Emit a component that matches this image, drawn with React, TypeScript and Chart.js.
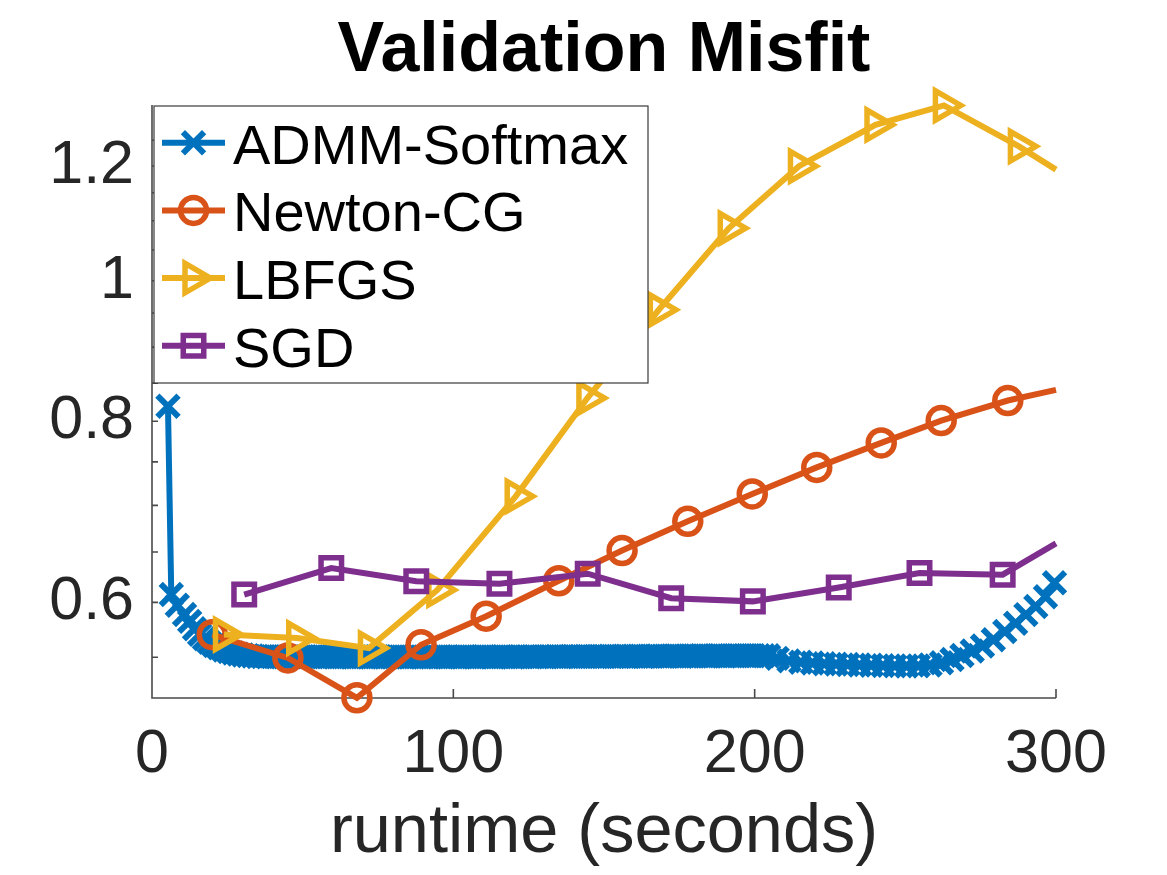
import React, { useEffect, useRef } from 'react';
import { Chart, registerables } from 'chart.js';

Chart.register(...registerables);

const FONT = "'Liberation Sans', Arial, Helvetica, sans-serif";

// ADMM-Softmax: validation misfit per iteration (runtime in seconds)
const admmTime = [
  5.3, 6.4, 8.4, 10.8, 12.5, 14.1, 15.8,
  17.4, 19.0, 20.6, 22.2, 23.8, 25.4, 27.0, 28.6, 30.2, 31.8, 33.4, 35.0,
  36.6, 38.2, 39.8, 41.4, 43.0, 44.6, 46.2, 47.8, 49.4, 51.0,
  52.6, 54.2, 55.8, 57.4, 59.0, 60.6, 62.2, 63.8, 65.4, 67.0,
  68.6, 70.2, 71.8, 73.4, 75.0, 76.6, 78.2, 79.8, 81.4, 83.0,
  84.6, 86.2, 87.8, 89.4, 91.0, 92.6, 94.2, 95.8, 97.4, 99.0,
  100.6, 102.2, 103.8, 105.4, 107.0, 108.6, 110.2, 111.8, 113.4, 115.0,
  116.6, 118.2, 119.8, 121.4, 123.0, 124.6, 126.2, 127.8, 129.4, 131.0,
  132.6, 134.2, 135.8, 137.4, 139.0, 140.6, 142.2, 143.8, 145.4, 147.0,
  148.6, 150.2, 151.8, 153.4, 155.0, 156.6, 158.2, 159.8, 161.4, 163.0,
  164.6, 166.2, 167.8, 169.4, 171.0, 172.6, 174.2, 175.8, 177.4, 179.0,
  180.6, 182.2, 183.8, 185.4, 187.0, 188.6, 190.2, 191.8, 193.4, 195.0,
  196.6, 198.2, 199.8, 201.4, 203.0, 204.6,
  207.5, 211.4, 215.3, 219.2, 223.1, 227.0, 230.9, 234.8, 238.7, 242.6,
  246.5, 250.4, 254.3, 258.2, 262.0, 265.5, 268.8, 272.2, 275.6, 279.2,
  283.0, 286.6, 290.0, 293.3, 296.5, 299.5,
];
const admmMisfit = [
  0.8194, 0.6075, 0.5973, 0.5886, 0.5822, 0.5755, 0.5703,
  0.5664, 0.5632, 0.5604, 0.5583, 0.5564, 0.5549, 0.5537, 0.5527, 0.552, 0.5514, 0.551, 0.5507,
  0.5505, 0.5504, 0.5505, 0.5503, 0.5504, 0.5505, 0.5503, 0.5504, 0.5502, 0.5504,
  0.5503, 0.5505, 0.5504, 0.5503, 0.5504, 0.5502, 0.5503, 0.5504, 0.5503, 0.5502,
  0.5504, 0.5503, 0.5502, 0.5503, 0.5504, 0.5502, 0.5503, 0.5502, 0.5504, 0.5503,
  0.5502, 0.5503, 0.5504, 0.5502, 0.5503, 0.5502, 0.5503, 0.5504, 0.5502, 0.5503,
  0.5503, 0.5502, 0.5504, 0.5503, 0.5502, 0.5503, 0.5504, 0.5503, 0.5502, 0.5503,
  0.5504, 0.5503, 0.5502, 0.5504, 0.5503, 0.5505, 0.5504, 0.5503, 0.5505, 0.5504,
  0.5505, 0.5506, 0.5504, 0.5505, 0.5506, 0.5505, 0.5507, 0.5506, 0.5505, 0.5507,
  0.5506, 0.5507, 0.5508, 0.5506, 0.5507, 0.5508, 0.5507, 0.5509, 0.5508, 0.5507,
  0.5509, 0.5508, 0.551, 0.5509, 0.5508, 0.551, 0.5511, 0.5509, 0.551, 0.5511,
  0.551, 0.5512, 0.5511, 0.551, 0.5512, 0.5513, 0.5511, 0.5512, 0.5513, 0.5512,
  0.5514, 0.5513, 0.5512, 0.5514, 0.5513, 0.5512,
  0.549, 0.5468, 0.5456, 0.5449, 0.5444, 0.544, 0.5436, 0.5432, 0.543, 0.5427,
  0.5425, 0.5424, 0.5425, 0.5432, 0.5452, 0.548, 0.5515, 0.5555, 0.5598, 0.5655,
  0.573, 0.5805, 0.5885, 0.5962, 0.6055, 0.619,
];

// Newton-CG
const newtonTime = [20.0, 45.1, 68.0, 89.3, 110.9, 135.0, 156.0, 177.8, 199.2, 220.6, 242.0, 261.9, 284.0, 300.0];
const newtonMisfit = [0.57, 0.5494, 0.5157, 0.561, 0.587, 0.621, 0.6515, 0.6825, 0.7128, 0.7435, 0.773, 0.8009, 0.8268, 0.841];

// LBFGS
const lbfgsTime = [23.9, 48.2, 72.0, 94.7, 120.7, 144.5, 168.2, 191.4, 214.7, 240.1, 262.8, 287.7, 300.0];
const lbfgsMisfit = [0.5702, 0.567, 0.558, 0.612, 0.7101, 0.83, 0.955, 1.087, 1.1996, 1.281, 1.321, 1.238, 1.193];

// SGD
const sgdTime = [30.6, 59.5, 87.7, 115.3, 144.6, 172.3, 199.4, 227.9, 254.7, 282.3, 300.0];
const sgdMisfit = [0.6075, 0.6336, 0.6205, 0.618, 0.628, 0.604, 0.601, 0.6144, 0.6286, 0.627, 0.659];

// Axis ticks
const xTickValues = [0, 100, 200, 300];
const yTickValues = [0.55, 0.6, 0.65, 0.7, 0.75, 0.8, 0.85, 0.9, 0.95, 1, 1.05, 1.1, 1.15, 1.2, 1.25];
const yLabelValues = [0.6, 0.8, 1, 1.2];

const Y_MIN = 0.5155;
const Y_MAX = 1.322;

type Marker = 'crossRot' | 'circle' | 'triangle' | 'rect';

interface SeriesDef {
  label: string;
  color: string;
  marker: Marker;
  radius: number;
  markerWidth: number;
  time: number[];
  misfit: number[];
  lastMarker: boolean;
}

const LINE_WIDTH = 6;

const series: SeriesDef[] = [
  { label: 'ADMM-Softmax', color: '#0072BD', marker: 'crossRot', radius: 15, markerWidth: 6, time: admmTime, misfit: admmMisfit, lastMarker: true },
  { label: 'Newton-CG', color: '#D95319', marker: 'circle', radius: 13, markerWidth: 5.5, time: newtonTime, misfit: newtonMisfit, lastMarker: false },
  { label: 'LBFGS', color: '#EDB120', marker: 'triangle', radius: 17, markerWidth: 5.5, time: lbfgsTime, misfit: lbfgsMisfit, lastMarker: false },
  { label: 'SGD', color: '#7E2F8E', marker: 'rect', radius: 14.5, markerWidth: 5.5, time: sgdTime, misfit: sgdMisfit, lastMarker: false },
];

function drawMarker(ctx: CanvasRenderingContext2D, m: Marker, x: number, y: number, r: number, color: string, lw: number) {
  ctx.save();
  ctx.strokeStyle = color;
  ctx.lineWidth = lw;
  ctx.beginPath();
  if (m === 'crossRot') {
    const d = r * Math.SQRT1_2;
    ctx.moveTo(x - d, y - d);
    ctx.lineTo(x + d, y + d);
    ctx.moveTo(x - d, y + d);
    ctx.lineTo(x + d, y - d);
  } else if (m === 'circle') {
    ctx.arc(x, y, r, 0, Math.PI * 2);
  } else if (m === 'rect') {
    const s = r * Math.SQRT1_2;
    ctx.rect(x - s, y - s, 2 * s, 2 * s);
  } else {
    const h = (r * Math.sqrt(3)) / 2;
    ctx.moveTo(x + r, y);
    ctx.lineTo(x - r / 2, y - h);
    ctx.lineTo(x - r / 2, y + h);
    ctx.closePath();
  }
  ctx.stroke();
  ctx.restore();
}

const axesFrame = {
  id: 'axesFrame',
  beforeDatasetsDraw(chart: any) {
    const { ctx, chartArea: a, scales } = chart;
    ctx.save();
    ctx.strokeStyle = '#4a4a4a';
    ctx.lineWidth = 1.6;
    ctx.beginPath();
    ctx.moveTo(a.left, a.top);
    ctx.lineTo(a.left, a.bottom);
    ctx.lineTo(a.right, a.bottom);
    for (const v of xTickValues) {
      const px = scales.x.getPixelForValue(v);
      ctx.moveTo(px, a.bottom);
      ctx.lineTo(px, a.bottom - 9);
    }
    for (const v of yTickValues) {
      const py = scales.y.getPixelForValue(v);
      ctx.moveTo(a.left, py);
      ctx.lineTo(a.left + 6, py);
    }
    ctx.stroke();
    ctx.restore();
  },
};

const titleAndLegend = {
  id: 'titleAndLegend',
  afterDatasetsDraw(chart: any) {
    const { ctx, chartArea: a } = chart;
    ctx.save();
    // legend box
    const left = a.left + 2;
    const top = a.top + 1;
    const w = 494;
    const h = 277;
    ctx.fillStyle = '#ffffff';
    ctx.fillRect(left, top, w, h);
    ctx.strokeStyle = '#3a3a3a';
    ctx.lineWidth = 1.2;
    ctx.strokeRect(left, top, w, h);
    ctx.font = `56px ${FONT}`;
    ctx.textAlign = 'left';
    ctx.textBaseline = 'alphabetic';
    series.forEach((s, i) => {
      const rowY = top + 36.7 + i * 67.7;
      ctx.strokeStyle = s.color;
      ctx.lineWidth = LINE_WIDTH;
      ctx.beginPath();
      ctx.moveTo(left + 8, rowY);
      ctx.lineTo(left + 71, rowY);
      ctx.stroke();
      drawMarker(ctx, s.marker, left + 39.5, rowY, s.radius, s.color, s.markerWidth);
      ctx.fillStyle = '#000000';
      ctx.fillText(s.label, left + 79, rowY + 21);
    });
    // title
    ctx.font = `bold 70px ${FONT}`;
    ctx.textAlign = 'center';
    ctx.fillStyle = '#000000';
    ctx.fillText('Validation Misfit', (a.left + a.right) / 2, 71);
    ctx.restore();
  },
};

export default function App() {
  const canvasRef = useRef<HTMLCanvasElement | null>(null);

  useEffect(() => {
    const canvas = canvasRef.current;
    if (!canvas) return;
    const datasets = series.map((s, i) => ({
      label: s.label,
      data: s.time.map((t, k) => ({ x: t, y: s.misfit[k] })),
      borderColor: s.color,
      borderWidth: LINE_WIDTH,
      backgroundColor: 'rgba(0,0,0,0)',
      pointStyle: s.marker,
      pointRotation: s.marker === 'triangle' ? 90 : 0,
      pointRadius: s.time.map((_, k) => (!s.lastMarker && k === s.time.length - 1 ? 0 : s.radius)),
      pointBorderWidth: s.markerWidth,
      pointBorderColor: s.color,
      pointBackgroundColor: 'rgba(0,0,0,0)',
      pointHoverRadius: 0,
      tension: 0,
      fill: false,
      clip: false as any,
      order: series.length - i,
    }));

    const chart = new Chart(canvas, {
      type: 'line',
      data: { datasets },
      options: {
        responsive: false,
        animation: false,
        events: [],
        layout: { padding: { top: 105, right: 111, left: 0, bottom: 0 } },
        plugins: {
          legend: { display: false },
          tooltip: { enabled: false },
          title: { display: false },
        },
        scales: {
          x: {
            type: 'linear',
            min: 0,
            max: 300,
            grid: { display: false, drawTicks: false },
            border: { display: false },
            afterBuildTicks: (s: any) => {
              s.ticks = xTickValues.map((v) => ({ value: v }));
            },
            afterFit: (s: any) => {
              s.height = 177;
            },
            ticks: {
              padding: 21,
              color: '#262626',
              autoSkip: false,
              maxRotation: 0,
              font: { family: FONT, size: 61 },
            },
            title: {
              display: true,
              text: 'runtime (seconds)',
              color: '#262626',
              font: { family: FONT, size: 68.5 },
              padding: { top: 0, bottom: 1 },
            },
          },
          y: {
            type: 'logarithmic',
            min: Y_MIN,
            max: Y_MAX,
            grid: { display: false, drawTicks: false },
            border: { display: false },
            afterBuildTicks: (s: any) => {
              s.ticks = yTickValues.map((v) => ({ value: v }));
            },
            afterFit: (s: any) => {
              s.width = 152;
            },
            ticks: {
              padding: 18,
              color: '#262626',
              autoSkip: false,
              font: { family: FONT, size: 61 },
              callback: (v: any) => (yLabelValues.includes(Number(v)) ? String(Number(v)) : ''),
            },
          },
        },
      },
      plugins: [axesFrame, titleAndLegend],
    });
    return () => chart.destroy();
  }, []);

  return (
    <div style={{ position: 'fixed', left: 0, top: 0, width: 1167, height: 875, background: '#ffffff' }}>
      <canvas ref={canvasRef} width={1167} height={875} style={{ display: 'block' }} />
    </div>
  );
}
